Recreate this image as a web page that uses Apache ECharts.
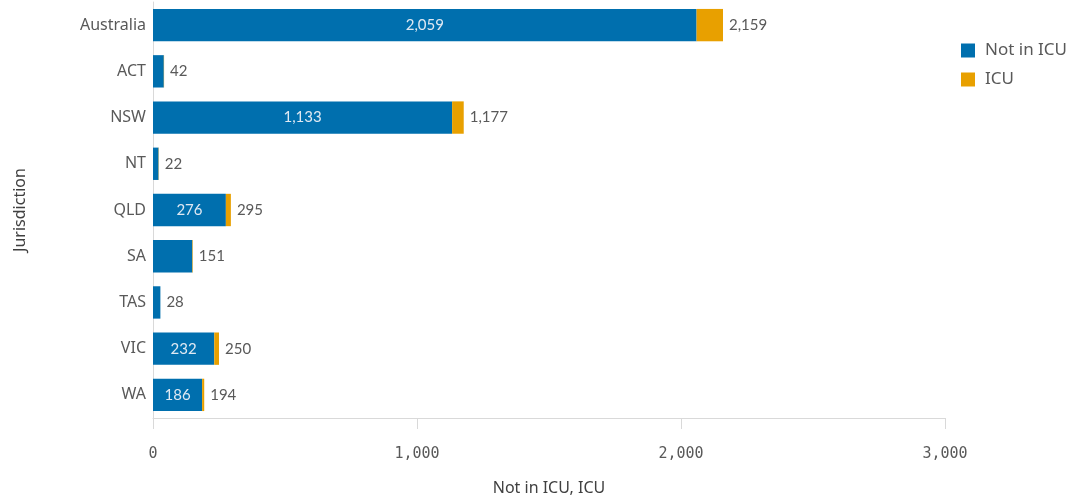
<!DOCTYPE html>
<html>
<head>
<meta charset="utf-8">
<script src="https://cdn.jsdelivr.net/npm/echarts@6/dist/echarts.min.js"></script>
<style>
  html, body { margin: 0; padding: 0; background: #ffffff; }
  #chart { width: 1074px; height: 498px; }
</style>
</head>
<body>
<div id="chart"></div>
<script>
// Hospitalised cases by jurisdiction, split by ICU status
const jurisdictions = ['Australia', 'ACT', 'NSW', 'NT', 'QLD', 'SA', 'TAS', 'VIC', 'WA'];
const notInIcu = [2059, 41, 1133, 21, 276, 149, 28, 232, 186];
const icu = [100, 1, 44, 1, 19, 2, 0, 18, 8];
const xTicks = [0, 1000, 2000, 3000];

const totals = jurisdictions.map((_, i) => notInIcu[i] + icu[i]);
const fmt = v => v.toLocaleString('en-US');

const monoFont = '"DejaVu Sans Mono", "Liberation Mono", monospace';
const valueFont = 'Lato, "Noto Sans", sans-serif';
const textFont = '"Noto Sans", "Open Sans", sans-serif';

const chart = echarts.init(document.getElementById('chart'), null, { renderer: 'canvas' });
chart.setOption({
  animation: false,
  backgroundColor: '#ffffff',
  grid: { left: 153, right: 129, top: 2, bottom: 80, containLabel: false, outerBoundsMode: 'none' },
  legend: {
    orient: 'vertical',
    left: 956,
    top: 37,
    itemWidth: 14,
    itemHeight: 14,
    itemGap: 12,
    icon: 'rect',
    textStyle: { fontFamily: textFont, fontSize: 17, color: '#595959', padding: [0, 0, 0, 5] },
    data: ['Not in ICU', 'ICU']
  },
  xAxis: {
    type: 'value',
    min: xTicks[0],
    max: xTicks[xTicks.length - 1],
    interval: 1000,
    name: 'Not in ICU, ICU',
    nameLocation: 'middle',
    nameGap: 62,
    nameTextStyle: { fontFamily: textFont, fontSize: 16, color: '#404040' },
    axisLine: { show: true, lineStyle: { color: '#d9d9d9', width: 1 } },
    axisTick: { show: true, length: 11, lineStyle: { color: '#d9d9d9' } },
    axisLabel: {
      margin: 29,
      fontFamily: monoFont,
      fontSize: 15,
      color: '#595959',
      formatter: v => fmt(v)
    },
    splitLine: { show: false }
  },
  yAxis: {
    type: 'category',
    inverse: true,
    data: jurisdictions,
    name: 'Jurisdiction',
    nameLocation: 'middle',
    nameGap: 125,
    nameRotate: 90,
    nameTextStyle: { fontFamily: textFont, fontSize: 16, color: '#404040' },
    axisLine: { show: true, lineStyle: { color: '#d9d9d9', width: 1 } },
    axisTick: { show: false },
    axisLabel: { margin: 7, fontFamily: textFont, fontSize: 16, color: '#595959' }
  },
  series: [
    {
      name: 'Not in ICU',
      type: 'bar',
      stack: 'total',
      data: notInIcu,
      barCategoryGap: '30%',
      itemStyle: { color: '#006fae' },
      label: {
        show: true,
        position: 'inside',
        fontFamily: valueFont,
        fontSize: 15,
        color: '#dfe9f3',
        formatter: p => (p.value >= 180 ? fmt(p.value) : '')
      }
    },
    {
      name: 'ICU',
      type: 'bar',
      stack: 'total',
      data: icu,
      itemStyle: { color: '#e8a000' },
      label: {
        show: true,
        position: 'right',
        distance: 6,
        fontFamily: valueFont,
        fontSize: 15,
        color: '#595959',
        formatter: p => fmt(totals[p.dataIndex])
      }
    }
  ]
});
</script>
</body>
</html>
